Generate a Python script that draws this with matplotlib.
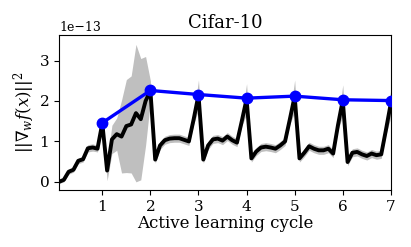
import numpy as np
import matplotlib
matplotlib.use("Agg")
import matplotlib.pyplot as plt

# --- data (units of 1e-13) ---
steps = np.arange(1, 71) / 10.0   # 10 steps per active learning cycle

grad_mean = [
    0.00, 0.05, 0.25, 0.30, 0.52, 0.56, 0.83, 0.85, 0.82, 1.45,
    0.28, 1.05, 1.18, 1.12, 1.38, 1.42, 1.70, 1.55, 2.00, 2.25,
    0.55, 0.90, 1.03, 1.07, 1.08, 1.08, 1.04, 1.00, 1.55, 2.15,
    0.55, 0.90, 1.05, 1.07, 1.02, 1.12, 1.03, 0.97, 1.50, 2.05,
    0.58, 0.75, 0.85, 0.87, 0.85, 0.82, 0.90, 1.00, 1.55, 2.12,
    0.58, 0.72, 0.88, 0.82, 0.78, 0.78, 0.82, 0.70, 1.40, 2.02,
    0.49, 0.72, 0.74, 0.68, 0.64, 0.70, 0.66, 0.68, 1.30, 1.95,
]
grad_std = [
    0.04, 0.05, 0.06, 0.06, 0.07, 0.07, 0.09, 0.09, 0.08, 0.15,
    0.25, 0.35, 0.40, 0.90, 1.15, 1.20, 1.70, 1.50, 1.10, 0.25,
    0.09, 0.10, 0.10, 0.10, 0.10, 0.10, 0.10, 0.10, 0.12, 0.37,
    0.09, 0.10, 0.10, 0.10, 0.10, 0.10, 0.10, 0.10, 0.12, 0.38,
    0.09, 0.10, 0.10, 0.10, 0.10, 0.10, 0.10, 0.10, 0.12, 0.40,
    0.09, 0.10, 0.10, 0.10, 0.10, 0.10, 0.10, 0.10, 0.12, 0.38,
    0.09, 0.10, 0.10, 0.10, 0.10, 0.10, 0.10, 0.10, 0.12, 0.35,
]
cycles = [1, 2, 3, 4, 5, 6, 7]
cycle_end = [1.46, 2.26, 2.16, 2.07, 2.12, 2.03, 2.01]

scale = 1e-13
mean = np.array(grad_mean) * scale
std = np.array(grad_std) * scale

plt.rcParams['font.family'] = 'DejaVu Serif'
plt.rcParams['mathtext.fontset'] = 'dejavuserif'

fig = plt.figure(figsize=(4.11, 2.47), dpi=100)
ax = fig.add_axes([0.1436, 0.231, 0.8074, 0.627])

ax.fill_between(steps, mean - std, mean + std, color='gray', alpha=0.5, linewidth=0)
ax.plot(steps, mean, color='black', linewidth=2.8)
ax.plot(cycles, np.array(cycle_end) * scale, color='blue', linewidth=2.4,
        marker='o', markersize=7.5, zorder=5)

ax.set_xlim(0.1, 7.0)
ax.set_ylim(-0.2e-13, 3.63e-13)
ax.set_xticks(cycles)
ax.set_yticks(np.array([0, 1, 2, 3]) * scale)
ax.tick_params(labelsize=11)
ax.yaxis.get_offset_text().set_fontsize(9)

ax.set_title('Cifar-10', fontsize=13, pad=5)
ax.set_xlabel('Active learning cycle', fontsize=12, labelpad=1)
ax.set_ylabel(r'$||\nabla_w f(x)||^2$', fontsize=12, labelpad=2)

fig.savefig('out.png', dpi=100)
